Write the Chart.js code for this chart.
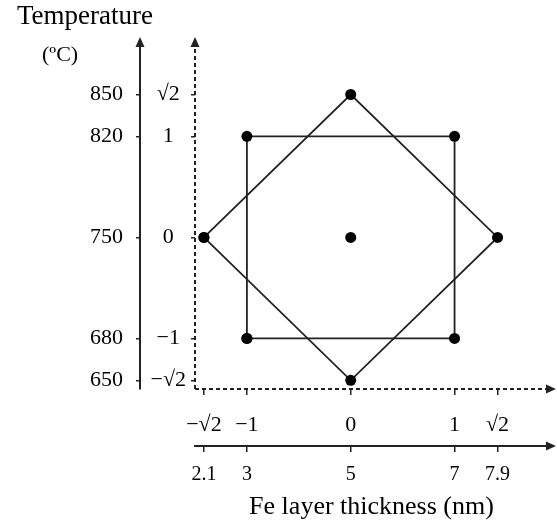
<!DOCTYPE html>
<html>
<head>
<meta charset="utf-8">
<script src="https://cdn.jsdelivr.net/npm/chart.js@4.4.0/dist/chart.umd.min.js"></script>
<style>
    html, body { margin: 0; padding: 0; background: #fff; }
    #wrap { width: 557px; height: 525px; }
</style>
</head>
<body>
<div id="wrap"><canvas id="ccdChart"></canvas></div>
<script>
// ---------------- DATA ----------------
const R2 = Math.SQRT2;

// coded levels on both axes
const codedTicks = [-R2, -1, 0, 1, R2];
const codedLabels = ["\u2212\u221A2", "\u22121", "0", "1", "\u221A2"];

// real values that belong to the coded levels
const thicknessLabels = ["2.1", "3", "5", "7", "7.9"];
const temperatureLabels = ["650", "680", "750", "820", "850"];

// design points (coded units)
const squareX = [-1, 1, 1, -1, -1];
const squareY = [-1, -1, 1, 1, -1];
const starX = [-R2, 0, R2, 0, -R2];
const starY = [0, R2, 0, -R2, 0];
const centerX = [0];
const centerY = [0];

const axisMin = -1.5;
const axisMax = 1.9;

const INK = "#222";
const SERIF = "'Liberation Serif', 'Times New Roman', serif";

function toPoints(xs, ys) {
    return xs.map((x, i) => ({ x: x, y: ys[i] }));
}

function fixedTicks(scale) {
    scale.ticks = codedTicks.map(v => ({ value: v }));
}

// ---------------- AXIS LINES, ARROWS, UNIT ----------------
const arrowPlugin = {
    id: "arrows",
    afterDraw(chart) {
        const ctx = chart.ctx;
        const area = chart.chartArea;
        const s = chart.scales;
        const topY = 37, rightX = 556;

        ctx.save();
        ctx.strokeStyle = INK;
        ctx.fillStyle = INK;
        ctx.lineWidth = 2;

        // vertical axes going up (solid one continues the scale border, dashed one is drawn whole)
        [[s.y2.right, [], area.top], [s.y.right, [4, 3], area.bottom]].forEach(([x, dash, fromY]) => {
            ctx.setLineDash(dash);
            ctx.beginPath();
            ctx.moveTo(x, fromY);
            ctx.lineTo(x, topY + 6);
            ctx.stroke();
            ctx.setLineDash([]);
            ctx.beginPath();
            ctx.moveTo(x, topY);
            ctx.lineTo(x - 4.5, topY + 10);
            ctx.lineTo(x + 4.5, topY + 10);
            ctx.closePath();
            ctx.fill();
        });

        // horizontal axes going right
        [[s.x.top, [4, 3], area.left], [s.x2.top, [], area.right]].forEach(([y, dash, fromX]) => {
            ctx.setLineDash(dash);
            ctx.beginPath();
            ctx.moveTo(fromX, y);
            ctx.lineTo(rightX - 6, y);
            ctx.stroke();
            ctx.setLineDash([]);
            ctx.beginPath();
            ctx.moveTo(rightX, y);
            ctx.lineTo(rightX - 10, y - 4.5);
            ctx.lineTo(rightX - 10, y + 4.5);
            ctx.closePath();
            ctx.fill();
        });

        ctx.font = "22px " + SERIF;
        ctx.textAlign = "left";
        ctx.textBaseline = "middle";
        ctx.fillStyle = "#000";
        ctx.fillText("(\u00BAC)", 42, 55);
        ctx.restore();
    }
};

// ---------------- CHART ----------------
const lineSet = {
    showLine: true,
    borderColor: INK,
    borderWidth: 1.8,
    pointRadius: 5.5,
    pointBackgroundColor: "#000",
    pointBorderWidth: 0,
    pointHoverRadius: 5.5
};

new Chart(document.getElementById("ccdChart"), {
    type: "scatter",
    data: {
        datasets: [
            Object.assign({ label: "Factorial", data: toPoints(squareX, squareY) }, lineSet),
            Object.assign({ label: "Axial", data: toPoints(starX, starY) }, lineSet),
            Object.assign({ label: "Center", data: toPoints(centerX, centerY) }, lineSet, { showLine: false })
        ]
    },
    options: {
        responsive: true,
        maintainAspectRatio: false,
        animation: false,
        layout: { padding: { left: 17, right: 9, top: 0, bottom: 0 } },
        plugins: {
            legend: { display: false },
            tooltip: { enabled: false },
            title: {
                display: true,
                text: "Temperature",
                align: "start",
                color: "#000",
                font: { family: SERIF, size: 27, weight: "normal" },
                padding: { top: 1, bottom: 12 }
            }
        },
        scales: {
            x: {
                type: "linear",
                position: "bottom",
                weight: 0,
                min: axisMin,
                max: axisMax,
                afterBuildTicks: fixedTicks,
                afterFit: scale => { scale.height = 57; },
                border: { display: false },
                grid: { display: true, drawOnChartArea: false, drawTicks: true, tickLength: 6, tickColor: INK, lineWidth: 1.5 },
                ticks: {
                    padding: 17,
                    color: "#000",
                    maxRotation: 0,
                    font: { family: SERIF, size: 22 },
                    callback: (v, i) => codedLabels[i]
                }
            },
            x2: {
                type: "linear",
                position: "bottom",
                weight: 1,
                min: axisMin,
                max: axisMax,
                afterBuildTicks: fixedTicks,
                afterFit: scale => { scale.height = 79; },
                border: { display: true, color: INK, width: 2 },
                grid: { display: true, drawOnChartArea: false, drawTicks: true, tickLength: 6, tickColor: INK, lineWidth: 1.5 },
                ticks: {
                    padding: 11,
                    color: "#000",
                    maxRotation: 0,
                    font: { family: SERIF, size: 20 },
                    callback: (v, i) => thicknessLabels[i]
                },
                title: {
                    display: true,
                    text: "Fe layer thickness (nm)",
                    color: "#000",
                    font: { family: SERIF, size: 26 },
                    padding: { top: 0, bottom: 2 }
                }
            },
            y: {
                type: "linear",
                position: "left",
                weight: 0,
                min: axisMin,
                max: axisMax,
                afterBuildTicks: fixedTicks,
                afterFit: scale => { scale.width = 55; },
                border: { display: false },
                grid: { display: true, drawOnChartArea: false, drawTicks: true, tickLength: 4, tickColor: INK, lineWidth: 1.5 },
                ticks: {
                    padding: 5,
                    crossAlign: "center",
                    color: "#000",
                    font: { family: SERIF, size: 22 },
                    callback: (v, i) => codedLabels[i]
                }
            },
            y2: {
                type: "linear",
                position: "left",
                weight: 1,
                min: axisMin,
                max: axisMax,
                afterBuildTicks: fixedTicks,
                afterFit: scale => { scale.width = 123; },
                border: { display: true, color: INK, width: 2 },
                grid: { display: true, drawOnChartArea: false, drawTicks: true, tickLength: 4, tickColor: INK, lineWidth: 1.5 },
                ticks: {
                    padding: 13,
                    color: "#000",
                    font: { family: SERIF, size: 22 },
                    callback: (v, i) => temperatureLabels[i]
                }
            }
        }
    },
    plugins: [arrowPlugin]
});
</script>
</body>
</html>
